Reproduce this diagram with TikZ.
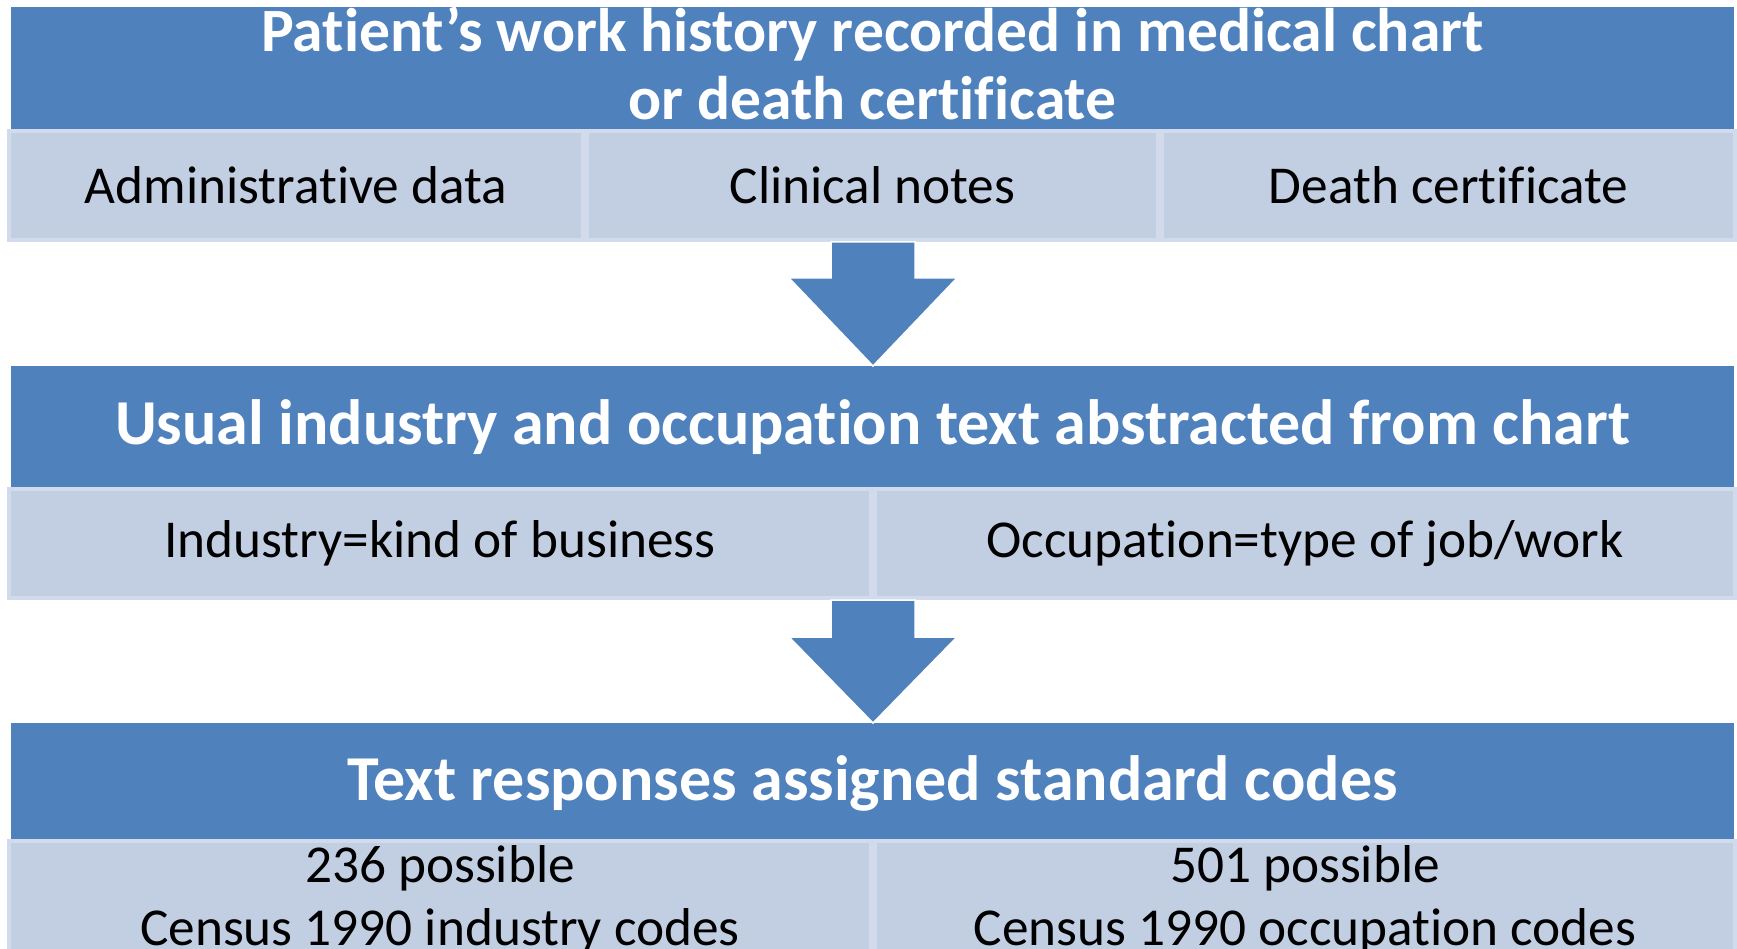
\documentclass[tikz,border=0pt]{standalone}
\usepackage{fontspec}
\setmainfont[Ligatures=NoCommon]{Carlito}
\definecolor{hdrblue}{RGB}{79,129,189}
\definecolor{cellfill}{RGB}{194,207,227}
\definecolor{celledge}{RGB}{210,219,235}
\begin{document}
\begin{tikzpicture}[x=1pt,y=-1pt,
  hdr/.style={fill=hdrblue, text=white, inner sep=0pt, outer sep=0pt,
    minimum width=1723pt, align=center, font=\bfseries},
  cell/.style={fill=cellfill, draw=celledge, line width=4pt, inner sep=0pt,
    outer sep=0pt, align=center, font=\fontsize{53.3}{63}\selectfont},
  blockarrow/.style={fill=hdrblue, draw=white, line width=1.5pt, line join=miter}]
\useasboundingbox (0,0) rectangle (1737,949);
\clip (0,0) rectangle (1737,949);

% stage 1
\node[hdr, minimum height=122pt] (h1) at (872.5,68) {};
\node[text=white, align=center, inner sep=0pt, font=\bfseries\fontsize{61.6}{68}\selectfont]
  (h1t) at (872.5,63) {Patient’s work history recorded in medical chart\\or death certificate};
\node[cell, minimum width=574pt, minimum height=109pt] (adm) at (296,185.5) {Administrative data};
\node[cell, minimum width=571pt, minimum height=109pt] (cln) at (872.5,185.5) {Clinical notes};
\node[cell, minimum width=573pt, minimum height=109pt] (dth) at (1448.5,185.5) {Death certificate};

% stage 2
\node[hdr, minimum height=122pt, font=\bfseries\fontsize{64}{70}\selectfont]
  (h2) at (872.5,427) {Usual industry and occupation text abstracted from chart};
\node[cell, minimum width=862pt, minimum height=109pt] (ind) at (440,543.5) {Industry=kind of business};
\node[cell, minimum width=860pt, minimum height=109pt] (occ) at (1305,543.5) {Occupation=type of job/work};

% stage 3
\node[hdr, minimum height=116pt, text depth=0pt] (h3) at (872.5,781) {};
\node[text=white, inner sep=0pt, font=\bfseries\fontsize{64}{70}\selectfont]
  (h3t) at (872.5,783) {Text responses assigned standard codes};
\node[cell, minimum width=862pt, minimum height=117pt] (icd) at (440,899.5) {236 possible\\Census 1990 industry codes};
\node[cell, minimum width=860pt, minimum height=117pt] (ocd) at (1305,899.5) {501 possible\\Census 1990 occupation codes};

% block arrows between the stages
\filldraw[blockarrow] (831,242) -- (915,242) -- (915,278) -- (957,278) -- (873,366)
  -- (789,278) -- (831,278) -- cycle;
\filldraw[blockarrow] (831,600) -- (915,600) -- (915,637) -- (957,637) -- (873,723)
  -- (789,637) -- (831,637) -- cycle;
\end{tikzpicture}
\end{document}
